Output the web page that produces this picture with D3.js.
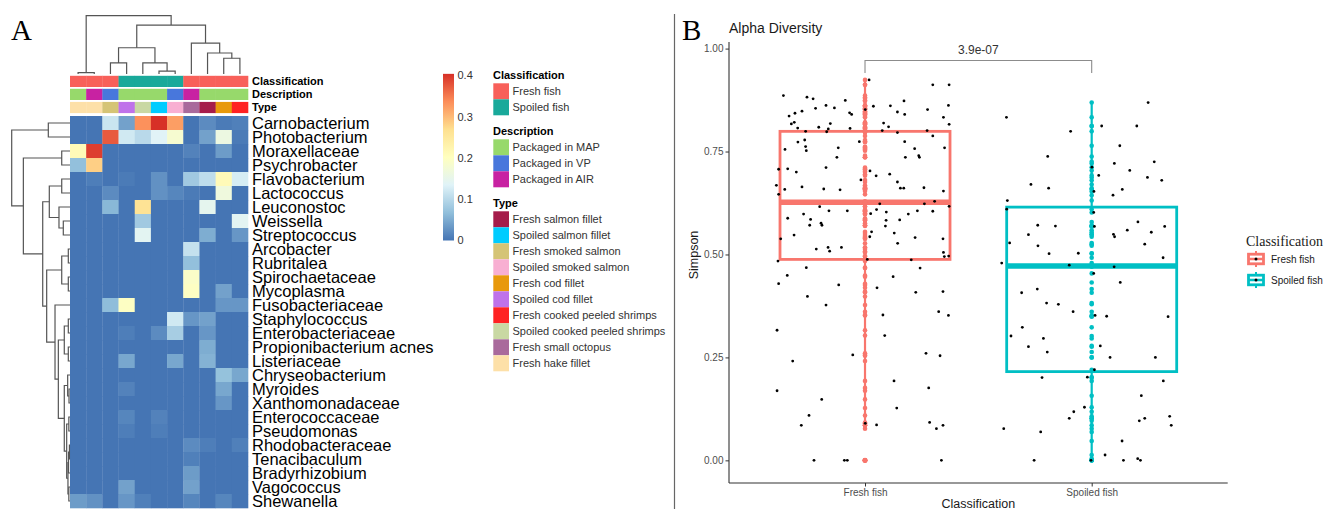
<!DOCTYPE html>
<html><head><meta charset="utf-8">
<script src="https://cdn.jsdelivr.net/npm/d3@7"></script>
<style>body{margin:0;background:#fff;} svg{display:block;font-family:"Liberation Sans",Arial,sans-serif;}</style>
</head><body><svg id="c" width="1326" height="509"></svg>
<script>
// ---------------- Panel A data ----------------
const taxa = ["Carnobacterium","Photobacterium","Moraxellaceae","Psychrobacter","Flavobacterium","Lactococcus","Leuconostoc","Weissella","Streptococcus","Arcobacter","Rubritalea","Spirochaetaceae","Mycoplasma","Fusobacteriaceae","Staphylococcus","Enterobacteriaceae","Propionibacterium acnes","Listeriaceae","Chryseobacterium","Myroides","Xanthomonadaceae","Enterococcaceae","Pseudomonas","Rhodobacteraceae","Tenacibaculum","Bradyrhizobium","Vagococcus","Shewanella"];
const colClass = ["Fresh fish","Fresh fish","Fresh fish","Spoiled fish","Spoiled fish","Spoiled fish","Spoiled fish","Fresh fish","Fresh fish","Fresh fish","Fresh fish"];
const colDesc = ["Packaged in MAP","Packaged in AIR","Packaged in VP","Packaged in MAP","Packaged in MAP","Packaged in MAP","Packaged in VP","Packaged in AIR","Packaged in MAP","Packaged in MAP","Packaged in MAP"];
const colType = ["Fresh hake fillet","Fresh hake fillet","Fresh smoked salmon","Spoiled cod fillet","Spoiled cooked peeled shrimps","Spoiled salmon fillet","Spoiled smoked salmon","Fresh small octopus","Fresh salmon fillet","Fresh cod fillet","Fresh cooked peeled shrimps"];
const abundance = [
 [0,0,0.115,0.04,0.33,0.40,0.32,0,0.02,0.005,0.01],
 [0,0,0.37,0.12,0.10,0.135,0.18,0,0.04,0.16,0.005],
 [0.21,0.39,0,0,0,0,0,0.012,0,0.035,0],
 [0.068,0.28,0,0,0,0,0,0,0,0,0],
 [0,0.008,0,0.005,0,0.025,0,0.08,0.105,0.21,0.125],
 [0,0,0.02,0,0,0.025,0.015,0.005,0,0.165,0],
 [0,0,0.06,0,0.26,0,0,0,0.145,0,0],
 [0,0,0,0,0.08,0,0,0,0,0,0.14],
 [0,0,0,0,0.14,0,0,0,0.05,0,0.03],
 [0,0,0,0,0,0,0,0.11,0,0,0],
 [0,0,0,0,0,0,0,0.068,0,0,0],
 [0,0,0,0,0,0,0,0.19,0,0,0],
 [0,0,0,0,0,0,0,0.195,0,0.04,0],
 [0,0,0.065,0.195,0,0,0,0,0,0.03,0.03],
 [0,0,0,0,0,0,0.12,0.03,0.04,0,0],
 [0,0,0,0.008,0,0.02,0.085,0,0.03,0,0],
 [0,0,0,0,0,0,0,0,0.05,0,0],
 [0,0,0,0.045,0,0,0.045,0,0.055,0,0],
 [0,0,0,0,0,0,0,0,0,0.07,0.045],
 [0,0,0,0.012,0,0,0,0,0,0.045,0],
 [0,0,0,0,0,0,0,0,0,0.03,0],
 [0,0,0,0.015,0,0.012,0,0,0,0,0],
 [0,0,0,0.008,0,0.008,0,0,0,0,0],
 [0,0,0,0,0,0,0,0.02,0.008,0,0.01],
 [0,0,0,0,0,0,0,0.01,0,0,0],
 [0,0,0,0,0,0,0,0.035,0,0,0],
 [0,0,0,0.04,0,0,0,0.04,0,0,0],
 [0.035,0.025,0,0.03,0.01,0,0,0.015,0,0.015,0]
];
// dendrograms: [left, right, height]; leaves are indices
const rowTree = [[0,1,0.372],[[2,3,0.142],[[[4,5,0.142],[6,[7,8,0.115],0.189],0.355],[[[9,10,0.029],[11,12,0.029],0.142],[13,[[[14,15,0.029],[16,17,0.029],0.098],[[18,[19,20,0.017],0.04],[[21,22,0.02],[[[23,24,0.01],25,0.025],[26,27,0.02],0.035],0.057],0.098],0.20],0.257],0.40],0.468],0.80],1.0];
const colTree = [[0,1,0.022],[[[2,3,0.19],[4,[5,6,0.05],0.19],0.45],[7,[8,[9,10,0.27],0.36],0.53],0.84],1.0];
const classNames = ["Fresh fish","Spoiled fish"];
const classCols = ["#f8605a","#19a99a"];
const descNames = ["Packaged in MAP","Packaged in VP","Packaged in AIR"];
const descCols = ["#97d96b","#4877dc","#c822a2"];
const typeNames = ["Fresh salmon fillet","Spoiled salmon fillet","Fresh smoked salmon","Spoiled smoked salmon","Fresh cod fillet","Spoiled cod fillet","Fresh cooked peeled shrimps","Spoiled cooked peeled shrimps","Fresh small octopus","Fresh hake fillet"];
const typeCols = ["#a51c4a","#00ccff","#d5c476","#f8afd2","#e8990c","#bf72ea","#ff2222","#c9d8a3","#a96a9c","#fde0a8"];
const heatPalette = ["#4575b4","#91bfdb","#e0f3f8","#ffffbf","#fee090","#fc8d59","#d73027"];
const heatTicks = [0,0.1,0.2,0.3,0.4];

// ---------------- Panel B data ----------------
const groups = ["Fresh fish","Spoiled fish"];
const groupCols = ["#F8766D","#00BFC4"];
const freshSimpson = [0.924,0.912,0.912,0.886,0.882,0.878,0.874,0.873,0.862,0.856,
0.855,0.861,0.860,0.862,0.848,0.843,0.836,0.844,0.840,0.846,
0.840,0.852,0.852,0.833,0.817,0.821,0.818,0.819,0.807,0.809,
0.805,0.798,0.806,0.810,0.801,0.799,0.796,0.801,0.816,0.788,
0.773,0.778,0.762,0.752,0.755,0.759,0.736,0.774,0.774,0.757,
0.759,0.736,0.740,0.736,0.707,0.708,0.700,0.711,0.703,0.691,
0.695,0.681,0.676,0.668,0.658,0.646,0.664,0.659,0.657,0.661,
0.661,0.662,0.654,0.623,0.623,0.629,0.617,0.616,0.606,0.606,
0.588,0.598,0.585,0.571,0.576,0.571,0.599,0.609,0.603,0.583,
0.569,0.584,0.598,0.606,0.605,0.547,0.538,0.555,0.543,0.552,
0.527,0.541,0.538,0.513,0.517,0.508,0.517,0.505,0.495,0.496,
0.484,0.488,0.487,0.468,0.467,
0.449,0.446,0.429,0.426,0.419,0.398,0.408,0.410,0.377,0.353,0.361,0.352,0.316,0.303,0.256,0.260,0.254,0.241,0.193,0.169,0.176,0.148,0.127,0.109,0.085,0.090,0.086,0.092,0.077,0.085,0,0,0,0];
const freshJitter = [0.018,0.299,0.371,-0.360,-0.256,-0.229,-0.087,0.172,-0.172,-0.135,
-0.218,0.112,0.037,0.368,-0.278,-0.309,-0.335,-0.068,-0.059,0.143,
0.175,0.001,0.276,0.346,-0.325,-0.312,-0.153,0.082,-0.297,-0.204,
-0.162,-0.169,-0.066,0.104,0.076,-0.262,0.143,0.274,0.371,0.299,
-0.296,-0.266,-0.262,-0.259,-0.353,-0.118,-0.124,-0.025,0.175,0.219,
0.351,0.178,0.237,0.240,-0.381,-0.341,-0.303,-0.172,0.022,0.049,
0.109,-0.018,0.143,-0.391,-0.354,-0.381,-0.278,-0.182,-0.110,0.156,
0.171,0.260,0.346,0.065,0.262,0.307,0.371,-0.200,-0.159,-0.078,
-0.341,-0.271,-0.240,-0.244,-0.194,-0.190,0.025,0.051,0.094,0.093,
0.090,0.153,0.191,0.231,0.299,-0.313,-0.372,0.029,0.021,0.129,
0.144,0.221,0.344,-0.215,-0.163,-0.156,-0.104,0.346,0.350,0.369,
-0.384,0.010,0.204,-0.259,0.243,
-0.343,0.124,-0.381,-0.116,0.053,-0.254,0.224,0.344,-0.172,0.079,0.325,0.368,-0.388,0.087,-0.054,0.269,0.331,-0.319,0.128,-0.388,0.281,-0.191,0.140,-0.247,-0.281,0.001,0.051,0.285,0.315,0.344,-0.225,-0.091,-0.078,0.337];
const spoiledSimpson = [0.869,0.833,0.812,0.812,0.799,0.764,0.738,0.721,0.725,0.712,
0.704,0.692,0.687,0.680,0.670,0.661,0.653,0.658,0.644,0.631,
0.610,0.602,0.579,0.571,0.569,0.568,0.568,0.548,0.549,0.543,
0.559,0.554,0.528,0.521,0.525,0.502,0.503,0.492,0.479,0.474,
0.470,0.454,0.432,0.416,0.407,0.382,0.379,0.361,0.352,0.350,
0.349,0.323,0.302,0.296,0.276,0.278,0.263,0.250,0.250,0.220,
0.201,0.202,0.193,0.157,0.129,0.118,0.102,0.107,0.102,0.096,
0.085,0.077,0.069,0.047,0.013,0,0,0,0.004,0];
const spoiledJitter = [0.249,-0.376,0.044,0.199,-0.093,0.124,-0.194,0.100,0.276,0.001,
0.168,0.031,0.246,0.309,-0.268,-0.190,0.010,0.135,0.094,-0.372,
-0.375,0.009,0.204,-0.238,-0.160,0.012,0.322,-0.279,0.096,0.101,
0.157,0.263,-0.362,-0.237,0.234,-0.188,-0.059,0.315,-0.397,-0.099,
0.099,0.009,0.126,-0.240,-0.309,-0.199,-0.147,-0.082,0.015,0.066,
0.337,-0.306,-0.356,-0.213,-0.279,0.038,-0.196,0.081,0.281,0.012,
-0.219,-0.019,0.316,0.219,-0.032,-0.079,-0.099,0.344,0.234,0.210,
0.351,-0.388,-0.225,0.134,0.059,-0.254,-0.003,0.140,0.203,0.215];
const boxLower = [0.488,0.2155];
const boxMedian = [0.627,0.472];
const boxUpper = [0.799,0.615];
const whiskerLow = [0.078,0];
const whiskerHigh = [0.924,0.868];
const outlierValues = [[0],[]];
const yTicks = [0,0.25,0.5,0.75,1.0];
const pLabel = "3.9e-07";
const bracketLevel = [0.971,0.941];

// ---------------- drawing ----------------
const svg = d3.select("#c");
svg.append("rect").attr("width",1326).attr("height",509).attr("fill","#fff");

// Panel A
const gA = svg.append("g");
gA.append("text").attr("x",11).attr("y",40).attr("font-family","'Liberation Serif',serif").attr("font-size",29).text("A");

const xCol = d3.scaleBand().domain(d3.range(colClass.length)).range([70,248]);
const yRow = d3.scaleBand().domain(d3.range(taxa.length)).range([116,508]);
const heatColor = d3.scaleLinear().domain(heatPalette.map((_,i)=>i*0.4/(heatPalette.length-1))).range(heatPalette).clamp(true);

abundance.forEach((row,i)=>{
  gA.selectAll(null).data(row).enter().append("rect")
    .attr("x",(d,j)=>xCol(j)).attr("y",yRow(i))
    .attr("width",xCol.bandwidth()+0.3).attr("height",yRow.bandwidth()+0.3)
    .attr("fill",d=>heatColor(d));
});
gA.selectAll(null).data(taxa).enter().append("text")
  .attr("x",252).attr("y",(d,i)=>yRow(i)+yRow.bandwidth()/2)
  .attr("dy","0.36em").attr("font-size",16.5).attr("fill","#000").text(d=>d);

// annotation tracks
const tracks = [
  {name:"Classification", vals:colClass, names:classNames, cols:classCols, y:75.8},
  {name:"Description", vals:colDesc, names:descNames, cols:descCols, y:88.8},
  {name:"Type", vals:colType, names:typeNames, cols:typeCols, y:101.9}
];
tracks.forEach(t=>{
  const sc = d3.scaleOrdinal().domain(t.names).range(t.cols);
  gA.selectAll(null).data(t.vals).enter().append("rect")
    .attr("x",(d,j)=>xCol(j)).attr("y",t.y).attr("width",xCol.bandwidth()+0.3).attr("height",11.2)
    .attr("fill",d=>sc(d));
  gA.append("text").attr("x",252).attr("y",t.y+5.6).attr("dy","0.36em")
    .attr("font-size",11).attr("font-weight","bold").text(t.name);
});

// dendrograms
function layoutTree(node, leafPos){
  if(typeof node === "number") return {pos:leafPos(node), h:0, paths:[]};
  const l = layoutTree(node[0], leafPos), r = layoutTree(node[1], leafPos);
  return {pos:(l.pos+r.pos)/2, h:node[2], l, r, paths:[...l.paths, ...r.paths, {l:[l.pos,l.h], r:[r.pos,r.h], h:node[2]}]};
}
const rowH = d3.scaleLinear().domain([0,1]).range([70,11.7]);
const rowLay = layoutTree(rowTree, i=>yRow(i)+yRow.bandwidth()/2);
gA.selectAll(null).data(rowLay.paths).enter().append("path")
  .attr("d",p=>`M${rowH(p.l[1])},${p.l[0]}H${rowH(p.h)}V${p.r[0]}H${rowH(p.r[1])}`)
  .attr("fill","none").attr("stroke","#555").attr("stroke-width",1.2);
const colH = d3.scaleLinear().domain([0,1]).range([74,15.7]);
const colLay = layoutTree(colTree, j=>xCol(j)+xCol.bandwidth()/2);
gA.selectAll(null).data(colLay.paths).enter().append("path")
  .attr("d",p=>`M${p.l[0]},${colH(p.l[1])}V${colH(p.h)}H${p.r[0]}V${colH(p.r[1])}`)
  .attr("fill","none").attr("stroke","#555").attr("stroke-width",1.2);

// color legend
const defs = svg.append("defs");
const grad = defs.append("linearGradient").attr("id","hg").attr("x1",0).attr("x2",0).attr("y1",1).attr("y2",0);
heatPalette.forEach((c,i)=>grad.append("stop").attr("offset",i/(heatPalette.length-1)).attr("stop-color",c));
const yLeg = d3.scaleLinear().domain([0,0.4]).range([240.5,75.5]);
gA.append("rect").attr("x",443).attr("y",yLeg(0.404)).attr("width",11).attr("height",yLeg(0)-yLeg(0.404)).attr("fill","url(#hg)");
gA.selectAll(null).data(heatTicks).enter().append("text")
  .attr("x",457.5).attr("y",d=>yLeg(d)).attr("dy","0.36em").attr("font-size",11).attr("fill","#333")
  .text(d=>d===0?"0":d3.format(".1f")(d));

// annotation legend
let ly = 75;
tracks.forEach(t=>{
  gA.append("text").attr("x",493).attr("y",ly).attr("dy","0.36em").attr("font-size",11).attr("font-weight","bold").text(t.name);
  const top = ly+8.3;
  t.names.forEach((n,k)=>{
    gA.append("rect").attr("x",493.3).attr("y",top+k*16).attr("width",15.7).attr("height",16).attr("fill",t.cols[k]);
    gA.append("text").attr("x",512.5).attr("y",top+k*16+8).attr("dy","0.36em").attr("font-size",11).attr("fill","#333").text(n);
  });
  ly = top + t.names.length*16 + 15.7;
});

// divider
svg.append("line").attr("x1",674.5).attr("x2",674.5).attr("y1",14).attr("y2",509).attr("stroke","#666").attr("stroke-width",1.2);

// Panel B
const gB = svg.append("g");
gB.append("text").attr("x",682).attr("y",40).attr("font-family","'Liberation Serif',serif").attr("font-size",29).text("B");
gB.append("text").attr("x",729).attr("y",28).attr("dy","0.36em").attr("font-size",14).attr("fill","#1a1a1a").text("Alpha Diversity");

const x = d3.scalePoint().domain(groups).range([729,1227.7]).padding(0.6);
const step = x.step();
const y = d3.scaleLinear().domain([-0.055,1.016]).range([483,42]);

const yAxis = gB.append("g").attr("transform","translate(729,0)")
  .call(d3.axisLeft(y).tickValues(yTicks).tickFormat(d3.format(".2f")).tickSize(3.5).tickPadding(2));
yAxis.select(".domain").attr("stroke","#333").attr("stroke-width",1.1).attr("d","M0,42V483");
yAxis.selectAll(".tick line").attr("stroke","#333");
yAxis.selectAll(".tick text").attr("font-size",10).attr("fill","#4d4d4d").attr("font-family","'Liberation Sans',Arial,sans-serif");

const xAxis = gB.append("g").attr("transform","translate(0,483)")
  .call(d3.axisBottom(x).tickSize(3.5).tickPadding(2));
xAxis.select(".domain").attr("stroke","#333").attr("stroke-width",1.1).attr("d","M729,0H1227.7");
xAxis.selectAll(".tick line").attr("stroke","#333");
xAxis.selectAll(".tick text").attr("font-size",10).attr("fill","#4d4d4d").attr("font-family","'Liberation Sans',Arial,sans-serif");

gB.append("text").attr("x",978.3).attr("y",503).attr("dy","0.36em").attr("text-anchor","middle").attr("font-size",12.5).attr("fill","#1a1a1a").text("Classification");
gB.append("text").attr("transform","translate(693,255) rotate(-90)").attr("dy","0.36em").attr("text-anchor","middle").attr("font-size",12.5).attr("fill","#1a1a1a").text("Simpson");

// boxes
const bw = 0.75*step;
groups.forEach((g,i)=>{
  const cx = x(g), col = groupCols[i];
  gB.append("line").attr("x1",cx).attr("x2",cx).attr("y1",y(whiskerHigh[i])).attr("y2",y(boxUpper[i])).attr("stroke",col).attr("stroke-width",2.2);
  gB.append("line").attr("x1",cx).attr("x2",cx).attr("y1",y(boxLower[i])).attr("y2",y(whiskerLow[i])).attr("stroke",col).attr("stroke-width",2.2);
  gB.append("rect").attr("x",cx-bw/2).attr("y",y(boxUpper[i])).attr("width",bw).attr("height",y(boxLower[i])-y(boxUpper[i]))
    .attr("fill","none").attr("stroke",col).attr("stroke-width",2.8);
  gB.append("line").attr("x1",cx-bw/2).attr("x2",cx+bw/2).attr("y1",y(boxMedian[i])).attr("y2",y(boxMedian[i])).attr("stroke",col).attr("stroke-width",5.5);
  gB.selectAll(null).data(outlierValues[i]).enter().append("circle").attr("cx",cx).attr("cy",d=>y(d)).attr("r",2.6).attr("fill",col);
});
// colored points along the centre
const sets = [[freshSimpson,freshJitter],[spoiledSimpson,spoiledJitter]];
sets.forEach((s,i)=>{
  gB.selectAll(null).data(s[0]).enter().append("circle")
    .attr("cx",x(groups[i])).attr("cy",d=>y(d)).attr("r",2.3).attr("fill",groupCols[i]);
});
sets.forEach((s,i)=>{
  gB.selectAll(null).data(s[0]).enter().append("circle")
    .attr("cx",(d,k)=>x(groups[i])+s[1][k]*step).attr("cy",d=>y(d)).attr("r",1.4).attr("fill","#000");
});

// significance bracket
const bx1 = x(groups[0]), bx2 = x(groups[1]);
gB.append("path").attr("d",`M${bx1},${y(bracketLevel[1])}V${y(bracketLevel[0])}H${bx2}V${y(bracketLevel[1])}`)
  .attr("fill","none").attr("stroke","#8c8c8c").attr("stroke-width",1.1);
gB.append("text").attr("x",(bx1+bx2)/2).attr("y",y(bracketLevel[0])-11).attr("dy","0.36em").attr("text-anchor","middle")
  .attr("font-size",12).attr("fill","#333").text(pLabel);

// legend B
gB.append("text").attr("x",1246).attr("y",241).attr("dy","0.36em").attr("font-family","'Liberation Serif',serif").attr("font-size",14).attr("fill","#1a1a1a").text("Classification");
groups.forEach((g,i)=>{
  const cy = 259 + i*21, cx = 1256, col = groupCols[i];
  gB.append("line").attr("x1",cx).attr("x2",cx).attr("y1",cy-8).attr("y2",cy+8).attr("stroke",col).attr("stroke-width",2);
  gB.append("rect").attr("x",cx-7.5).attr("y",cy-4.8).attr("width",15).attr("height",9.6).attr("fill","#fff").attr("stroke",col).attr("stroke-width",2.8);
  gB.append("line").attr("x1",cx-7.5).attr("x2",cx+7.5).attr("y1",cy).attr("y2",cy).attr("stroke",col).attr("stroke-width",2.5);
  gB.append("circle").attr("cx",cx).attr("cy",cy).attr("r",1.5).attr("fill","#000");
  gB.append("text").attr("x",1271).attr("y",cy).attr("dy","0.36em").attr("font-size",10).attr("fill","#1a1a1a").text(g);
});
</script></body></html>
